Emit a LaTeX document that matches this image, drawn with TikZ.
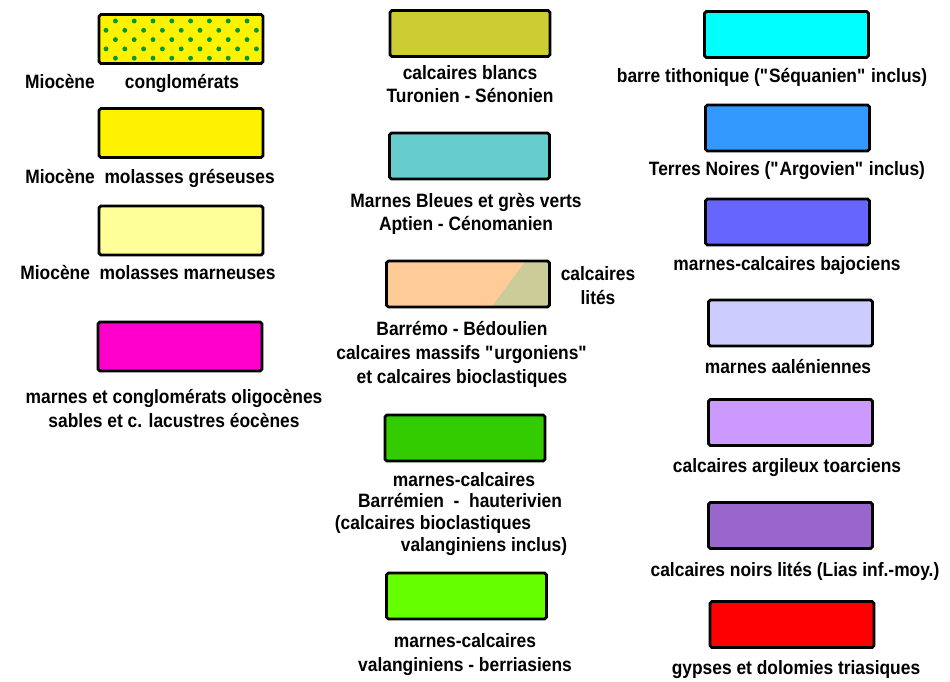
\documentclass[tikz,border=0pt]{standalone}
\usepackage{fontspec}
\setmainfont{Liberation Sans}[FakeStretch=0.9]
\usetikzlibrary{positioning}
\definecolor{paleyellow}{HTML}{FFFF99}
\definecolor{pink}{HTML}{FF00CC}
\definecolor{chalk}{HTML}{CCCC33}
\definecolor{bluemarl}{HTML}{66CCCC}
\definecolor{peach}{HTML}{FFCC99}
\definecolor{sage}{HTML}{CCCC99}
\definecolor{marlgreen}{HTML}{33CC00}
\definecolor{brightgreen}{HTML}{66FF00}
\definecolor{tithonic}{HTML}{00FFFF}
\definecolor{blackearth}{HTML}{3399FF}
\definecolor{bajocian}{HTML}{6666FF}
\definecolor{aalenian}{HTML}{CCCCFF}
\definecolor{toarcian}{HTML}{CC99FF}
\definecolor{lias}{HTML}{9966CC}
\definecolor{dotgreen}{HTML}{009933}
\tikzset{
    swatch/.style={draw, line width=1.6pt, rounded corners=1pt,
        minimum width=3.28cm, minimum height=0.92cm, inner sep=0pt}, % coloured boxes
    legend/.style={font=\bfseries\fontsize{11}{13.6}\selectfont,
        align=center, anchor=base, inner sep=0pt}, % captions, placed at the last baseline
}

\begin{document}
\begin{tikzpicture}[x=0.02cm, y=-0.02cm]
    \useasboundingbox (0,0) rectangle (950,682);

    % Tertiary
    \node[swatch, fill=yellow, minimum height=0.98cm] (m1) at (181,39) {};
    \foreach \r in {0,...,4}
        \foreach \k in {0,...,16}
            {\ifodd\numexpr\r+\k\relax \fill[dotgreen] (106+9.4*\k, 21+9.3*\r) circle (1.4pt); \fi}
    \node[legend] (m1a) at (60,89) {Miocène};
    \node[legend] (m1b) at (182,89) {conglomérats};
    \node[swatch, fill=yellow, minimum height=0.98cm] (m2) at (181,133) {};
    \node[legend] (m2t) at (150,184) {Miocène\ \ molasses gréseuses};
    \node[swatch, fill=paleyellow, minimum height=0.98cm] (m3) at (181,230.5) {};
    \node[legend] (m3t) at (148,279) {Miocène\ \ molasses marneuses};
    \node[swatch, fill=pink, minimum height=0.98cm] (o1) at (180,346.5) {};
    \node[legend] (o1t) at (174,427) {marnes et conglomérats oligocènes\\sables et c. lacustres éocènes};

    % Cretaceous
    \node[swatch, fill=chalk, minimum width=3.2cm] (c1) at (470,33.5) {};
    \node[legend] (c1t) at (470,103) {calcaires blancs\\Turonien - Sénonien};
    \node[swatch, fill=bluemarl, minimum width=3.2cm] (c2) at (469.5,156) {};
    \node[legend] (c2t) at (466,231) {Marnes Bleues et grès verts\\Aptien - Cénomanien};
    \node[swatch, fill=peach, minimum width=3.26cm,
        path picture={\fill[sage] ([xshift=-0.48cm]path picture bounding box.north east)
            -- (path picture bounding box.north east) -- (path picture bounding box.south east)
            -- ([xshift=-1.16cm]path picture bounding box.south east) -- cycle;}] (c3) at (468,284) {};
    \node[legend] (c3s) at (598,304) {calcaires\\lités};
    \node[legend] (c3t) at (462,383) {Barrémo - Bédoulien\\calcaires massifs \textquotedbl urgoniens\textquotedbl\\et calcaires bioclastiques};
    \node[swatch, fill=marlgreen, minimum width=3.2cm] (c4) at (465,438) {};
    \node[legend] (c4a) at (464,486) {marnes-calcaires};
    \node[legend] (c4b) at (460,507) {Barrémien\ \ -\ \ hauterivien};
    \node[legend] (c4c) at (433,529) {(calcaires bioclastiques};
    \node[legend] (c4d) at (484,551) {valanginiens inclus)};
    \node[swatch, fill=brightgreen, minimum width=3.2cm] (c5) at (466.5,596) {};
    \node[legend] (c5t) at (465,671) {marnes-calcaires\\valanginiens - berriasiens};

    % Jurassic and Trias
    \node[swatch, fill=tithonic] (j1) at (786.5,34.5) {};
    \node[legend] (j1t) at (772,83) {barre tithonique (\textquotedbl Séquanien\textquotedbl\ inclus)};
    \node[swatch, fill=blackearth] (j2) at (787.5,128) {};
    \node[legend] (j2t) at (787,176) {Terres Noires (\textquotedbl Argovien\textquotedbl\ inclus)};
    \node[swatch, fill=bajocian] (j3) at (787.5,222) {};
    \node[legend] (j3t) at (787,271) {marnes-calcaires bajociens};
    \node[swatch, fill=aalenian] (j4) at (790.5,323) {};
    \node[legend] (j4t) at (788,373) {marnes aaléniennes};
    \node[swatch, fill=toarcian] (j5) at (790.5,422.5) {};
    \node[legend] (j5t) at (787,472) {calcaires argileux toarciens};
    \node[swatch, fill=lias] (j6) at (790.5,525.5) {};
    \node[legend] (j6t) at (795,576) {calcaires noirs lités (Lias inf.-moy.)};
    \node[swatch, fill=red] (j7) at (792,624.5) {};
    \node[legend] (j7t) at (796,674) {gypses et dolomies triasiques};
\end{tikzpicture}
\end{document}
